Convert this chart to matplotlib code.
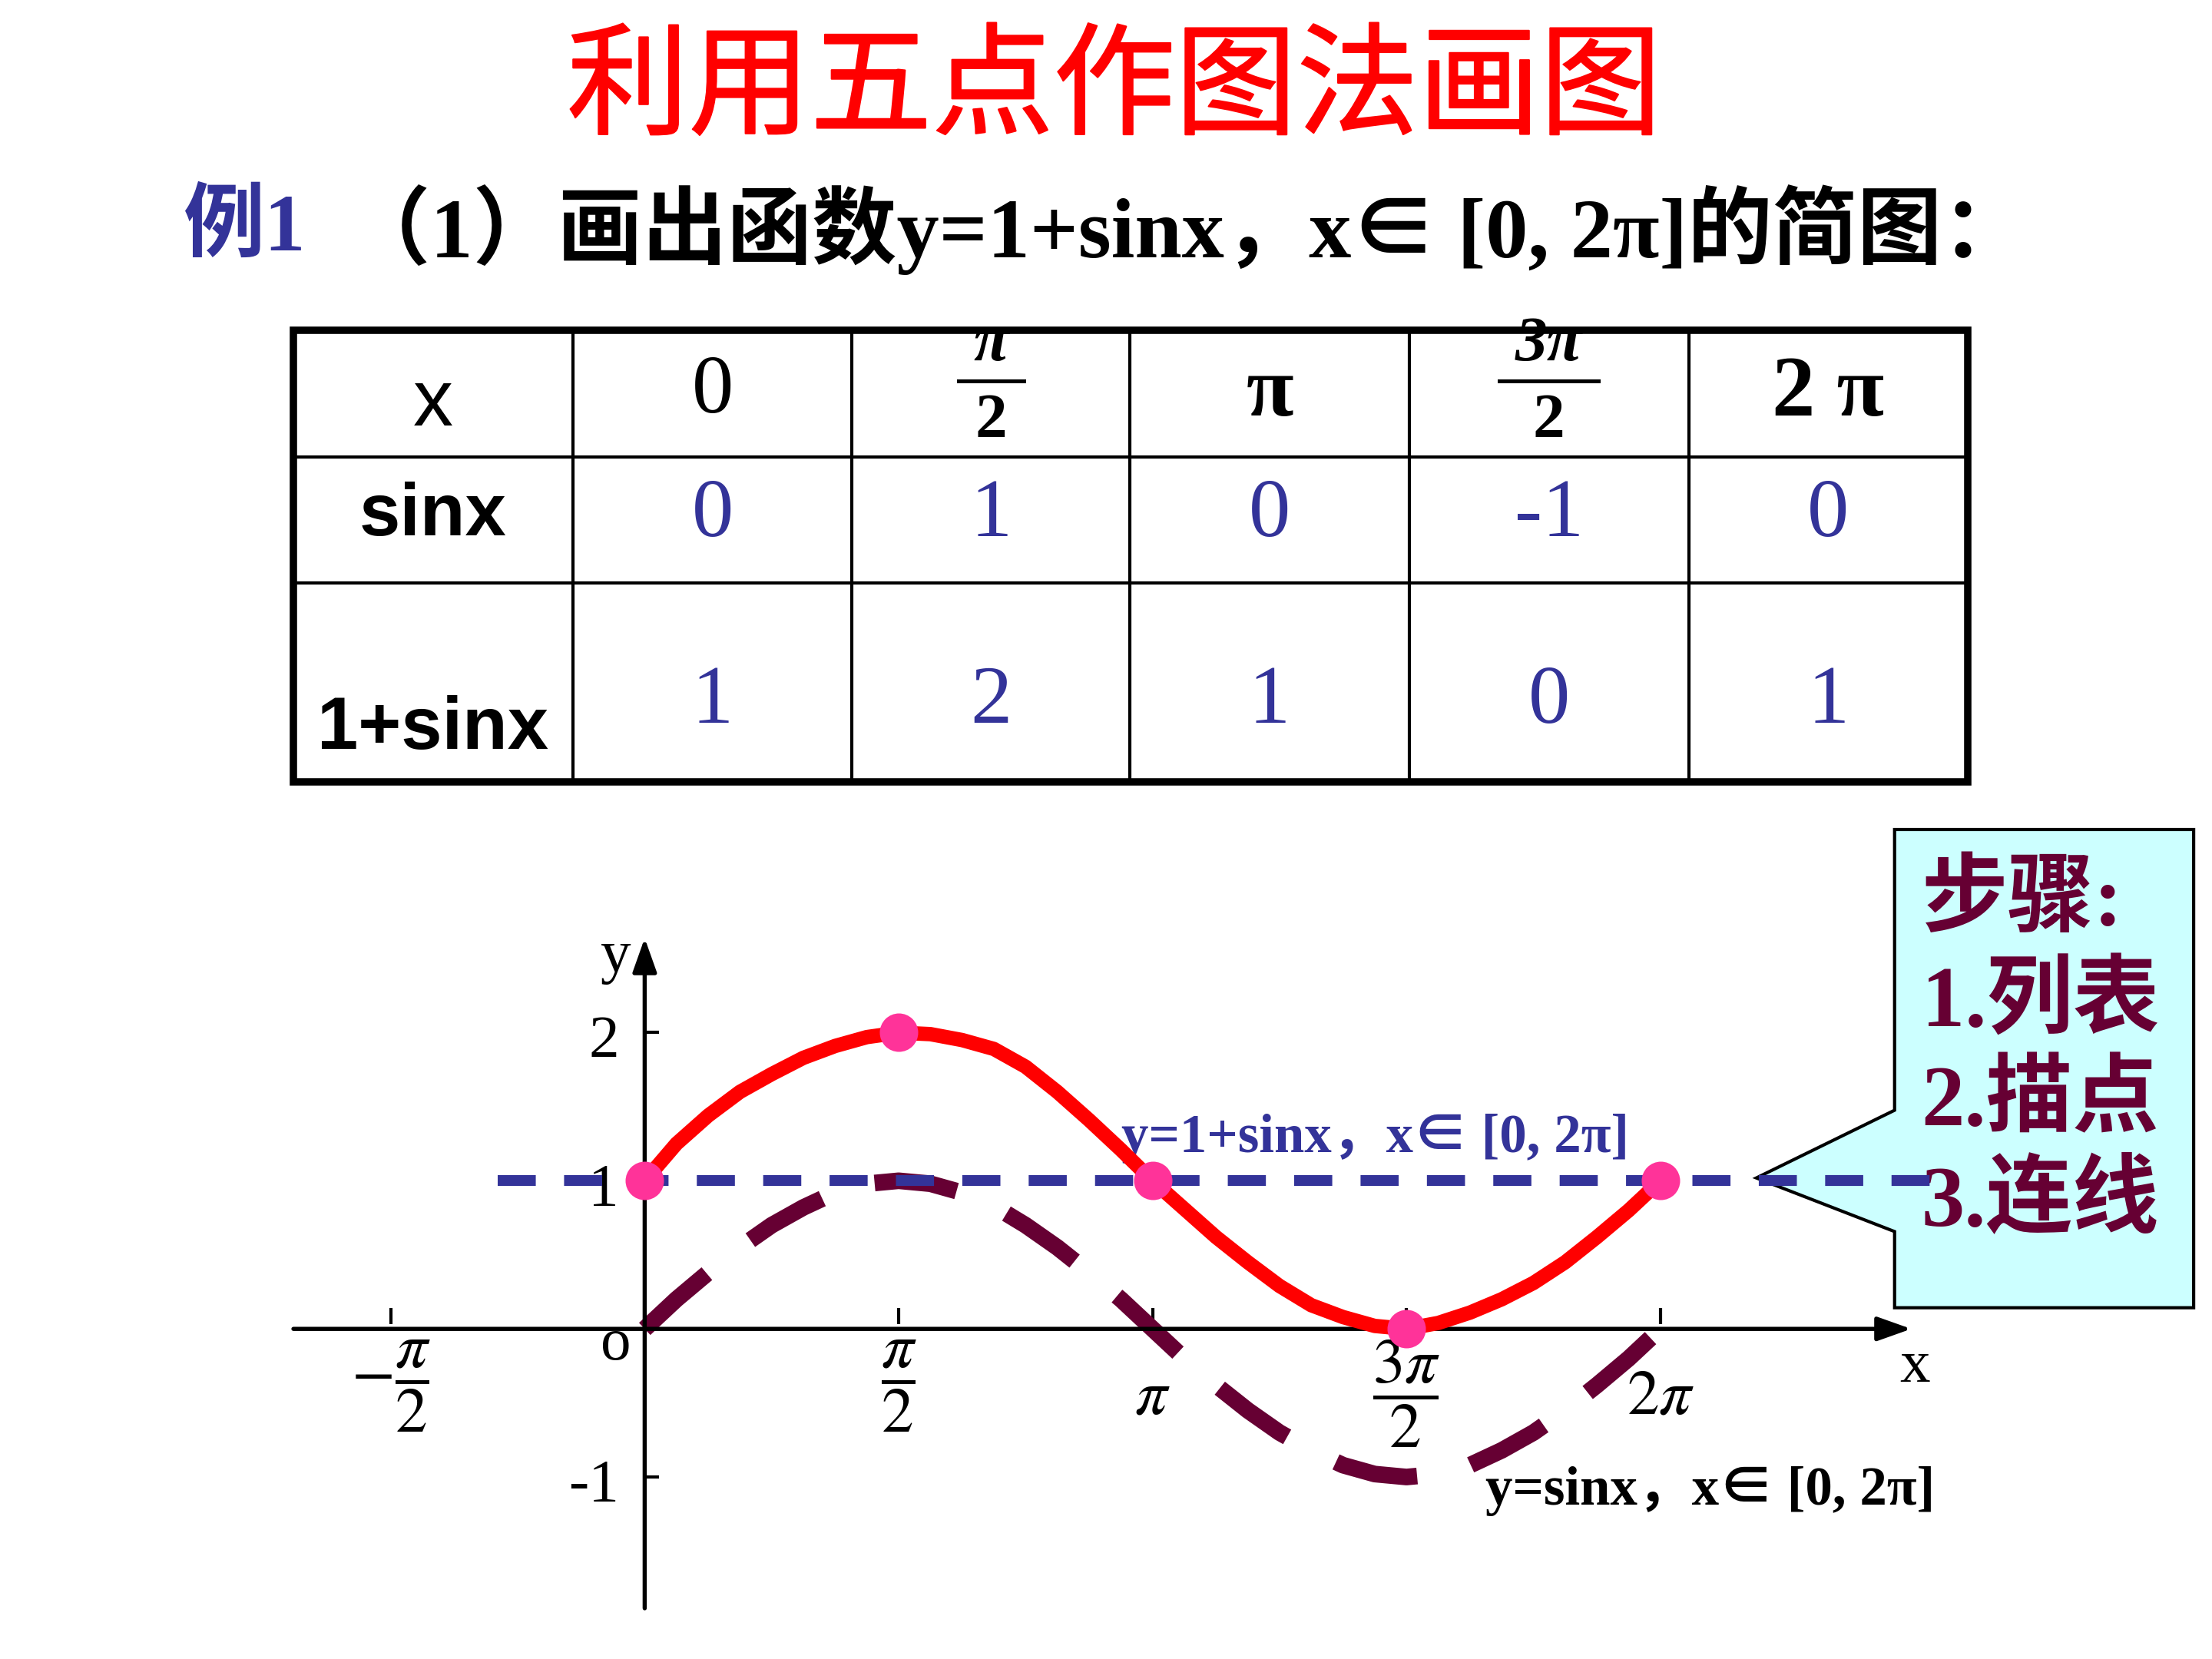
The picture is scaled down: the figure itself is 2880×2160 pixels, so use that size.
import numpy as np
import matplotlib
matplotlib.use('Agg')
import matplotlib.pyplot as plt
import matplotlib.patheffects as pe
from matplotlib.patches import Polygon, Rectangle

plt.rcParams['mathtext.fontset'] = 'stix'
SERIF_CJK = ['Liberation Serif', 'Noto Sans CJK SC']
SANS = ['Liberation Sans']

RED = '#FF0000'
PINK = '#FF3399'
NAVY = '#333399'
MAROON = '#660033'
CYAN = '#CCFFFF'

# ---- data ----
title = '利用五点作图法画图'
example_tag = '例1'
question = '（1）画出函数y=1+sinx，x∈ [0, 2π]的简图：'
row_names = ['x', 'sinx', '1+sinx']
x_heads = ['0', ('π', '2'), 'π', ('3π', '2'), '2 π']
sin_vals = [0, 1, 0, -1, 0]
one_plus_sin = [1, 2, 1, 0, 1]
five_x = np.array([0, 0.5, 1, 1.5, 2]) * np.pi

# curves, x in units of pi (step pi/16)
curve_x = np.array([0, 0.0625, 0.125, 0.1875, 0.25, 0.3125, 0.375, 0.4375,
                    0.5, 0.5625, 0.625, 0.6875, 0.75, 0.8125, 0.875, 0.9375,
                    1.0, 1.0625, 1.125, 1.1875, 1.25, 1.3125, 1.375, 1.4375,
                    1.5, 1.5625, 1.625, 1.6875, 1.75, 1.8125, 1.875, 1.9375,
                    2.0]) * np.pi
red_y = [1.0, 1.25, 1.44, 1.60, 1.72, 1.83, 1.91, 1.97,
         2.0, 1.99, 1.95, 1.89, 1.77, 1.60, 1.41, 1.21,
         1.0, 0.81, 0.62, 0.45, 0.29, 0.16, 0.08, 0.02,
         0.0, 0.04, 0.11, 0.20, 0.31, 0.45, 0.62, 0.80,
         1.0]
sin_y = [0, 0.2, 0.38, 0.55, 0.7, 0.82, 0.92, 0.98,
         1.0, 0.98, 0.92, 0.83, 0.7, 0.55, 0.38, 0.2,
         0.0, -0.2, -0.38, -0.55, -0.7, -0.82, -0.92, -0.98,
         -1.0, -0.98, -0.92, -0.82, -0.7, -0.55, -0.38, -0.2,
         0.0]
# horizontal line y=1
base_x = np.array([-0.29, 2.56]) * np.pi
base_y = [1, 1]

xtick_vals = np.array([-0.5, 0.5, 1, 1.5, 2]) * np.pi
xtick_labels = [r'$-\dfrac{\pi}{2}$', r'$\dfrac{\pi}{2}$', r'$\pi$',
                r'$\dfrac{3\pi}{2}$', r'$2\pi$']
ytick_vals = [2, 1, -1]
ytick_labels = ['2', '1', '-1']
steps = ['步骤:', '1.列表', '2.描点', '3.连线']
label_upper = 'y=1+sinx，x∈ [0, 2π]'
label_lower = 'y=sinx，x∈ [0, 2π]'

fig = plt.figure(figsize=(9.6, 7.2), dpi=300, facecolor='white')

# background axes in slide pixel units
bg = fig.add_axes([0, 0, 1, 1])
bg.set_xlim(0, 1568)
bg.set_ylim(1176, 0)
bg.axis('off')

# title and question
bg.text(790, 64, title, color=RED, fontsize=38, ha='center', va='center',
        family='Noto Sans CJK SC',
        path_effects=[pe.withStroke(linewidth=0.5, foreground=RED)])
bg.text(130, 163, example_tag, color=NAVY, fontsize=25.5, fontweight='bold',
        ha='left', va='center', family=SERIF_CJK)
bg.text(245, 163, question, color='black', fontsize=26.5, fontweight='bold',
        ha='left', va='center', family=SERIF_CJK)

# ---- table ----
col_x = [208, 406, 604, 801, 999, 1197, 1395]
row_y = [234, 324, 413, 554]
for x in col_x[1:-1]:
    bg.plot([x, x], [row_y[0], row_y[-1]], color='k', lw=1.0)
for y in row_y[1:-1]:
    bg.plot([col_x[0], col_x[-1]], [y, y], color='k', lw=1.0)
frame = Rectangle((col_x[0], row_y[0]), col_x[-1] - col_x[0], row_y[-1] - row_y[0],
                  fill=False, lw=2.3, ec='k', zorder=5)
bg.add_patch(frame)
clip_rect = Rectangle((col_x[0], row_y[0]), col_x[-1] - col_x[0], row_y[-1] - row_y[0],
                      transform=bg.transData, visible=False)
bg.add_patch(clip_rect)

centers = [(col_x[i] + col_x[i + 1]) / 2 for i in range(len(col_x) - 1)]

bg.text(centers[0], 287, row_names[0], fontsize=25, ha='center', va='center', family=SANS)
bg.text(centers[0], 366, row_names[1], fontsize=23, fontweight='bold',
        ha='center', va='center', family=SANS)
bg.text(centers[0], 517, row_names[2], fontsize=23, fontweight='bold',
        ha='center', va='center', family=SANS)

for cx, head in zip(centers[1:], x_heads):
    if isinstance(head, tuple):
        num, den = head
        t = bg.text(cx, 245, num, fontsize=20, fontweight='bold', fontstyle='italic',
                    ha='center', va='center', family=SERIF_CJK)
        t.set_clip_path(clip_rect)
        half = 23 if len(num) == 1 else 35
        bg.plot([cx - half, cx + half], [270, 270], color='k', lw=1.2)
        bg.text(cx, 299, den, fontsize=20, fontweight='bold',
                ha='center', va='center', family=SERIF_CJK)
    elif head == '0':
        bg.text(cx, 278, head, fontsize=26, ha='center', va='center', family=SERIF_CJK)
    else:
        bg.text(cx, 280, head, fontsize=27, fontweight='bold',
                ha='center', va='center', family=SERIF_CJK)

for cx, v in zip(centers[1:], sin_vals):
    bg.text(cx, 366, str(v), fontsize=26, color=NAVY, ha='center', va='center',
            family=SERIF_CJK)
for cx, v in zip(centers[1:], one_plus_sin):
    bg.text(cx, 498, str(v), fontsize=26, color=NAVY, ha='center', va='center',
            family=SERIF_CJK)

# ---- callout box ----
callout = Polygon([(1343, 588), (1555, 588), (1555, 927), (1343, 927),
                   (1343, 873), (1245, 835), (1343, 787)],
                  closed=True, fc=CYAN, ec='k', lw=1.0)
bg.add_patch(callout)
for i, s in enumerate(steps):
    bg.text(1362, 640 + i * 71, s, fontsize=27, fontweight='bold', color=MAROON,
            ha='left', va='center', family=SERIF_CJK)

# curve labels
bg.text(975, 807, label_upper, fontsize=17, fontweight='bold', color=NAVY,
        ha='center', va='center', family=SERIF_CJK, zorder=6)
bg.text(1212, 1057, label_lower, fontsize=17, fontweight='bold', color='black',
        ha='center', va='center', family=SERIF_CJK)

# ---- coordinate plot ----
ax = fig.add_axes([208 / 1568, 1 - 1150 / 1176, 1172 / 1568, 500 / 1176])
ax.set_xlim((208 - 457) / 360 * np.pi, (1380 - 457) / 360 * np.pi)
ax.set_ylim((942 - 1150) / 105, (942 - 650) / 105)
ax.axis('off')
ax.patch.set_visible(False)

x_lo = ax.get_xlim()[0]
x_tip = 2.494 * np.pi
y_lo, y_tip = -1.886, 2.638
for start, end in [((x_lo, 0), (x_tip, 0)), ((0, y_lo), (0, y_tip))]:
    ax.annotate('', xy=end, xytext=start,
                arrowprops=dict(arrowstyle='-|>,head_length=0.45,head_width=0.16',
                                color='k', lw=1.3, mutation_scale=20,
                                shrinkA=0, shrinkB=0), annotation_clip=False)

ax.vlines(xtick_vals, 0.03, 0.14, color='k', lw=1.0)
ax.hlines(ytick_vals, 0, 0.09, color='k', lw=1.0)
for xv, lab in zip(xtick_vals, xtick_labels):
    off = -3 if 'frac' in lab else -11
    ax.annotate(lab, xy=(xv, 0), xytext=(0, off), textcoords='offset points',
                ha='center', va='top', fontsize=20, annotation_clip=False)
for yv, lab in zip(ytick_vals, ytick_labels):
    ax.annotate(lab, xy=(0, yv), xytext=(-8, -3), textcoords='offset points',
                ha='right', va='center', fontsize=19, family=SERIF_CJK,
                annotation_clip=False)
ax.annotate('o', xy=(0, 0), xytext=(-9, -5), textcoords='offset points',
            ha='center', va='center', fontsize=19, family=SERIF_CJK)
ax.annotate('y', xy=(0, y_tip), xytext=(-9, -6), textcoords='offset points',
            ha='center', va='center', fontsize=19, family=SERIF_CJK)
ax.annotate('x', xy=(x_tip, 0), xytext=(1, -12), textcoords='offset points',
            ha='center', va='center', fontsize=19, family=SERIF_CJK,
            annotation_clip=False)

ax.plot(curve_x, sin_y, color=MAROON, lw=5.2, dashes=(5.0, 3.3),
        dash_capstyle='butt', dash_joinstyle='round', zorder=2, clip_on=False)
ax.plot(base_x, base_y, color=NAVY, lw=3.4, dashes=(3.5, 2.6),
        dash_capstyle='butt', zorder=3, clip_on=False)
ax.plot(curve_x, red_y, color=RED, lw=4.5, solid_joinstyle='round',
        solid_capstyle='round', zorder=4, clip_on=False)
ax.plot(five_x, one_plus_sin, linestyle='none', marker='o', markersize=11,
        color=PINK, zorder=5, clip_on=False)

fig.savefig('out.png', dpi=300)
